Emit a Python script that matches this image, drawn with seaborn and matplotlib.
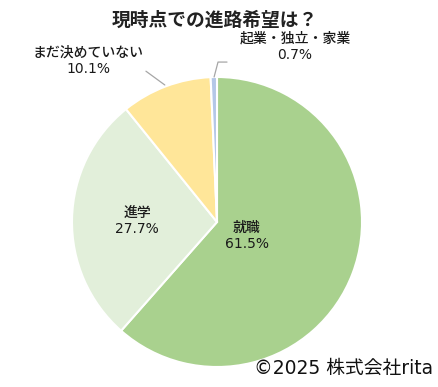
import matplotlib.pyplot as plt
import seaborn as sns

# data
labels = ["就職", "進学", "まだ決めていない", "起業・独立・家業"]
values = [61.5, 27.7, 10.1, 0.7]
pct_text = ["61.5%", "27.7%", "10.1%", "0.7%"]
colors = ["#A9D18E", "#E2EFDA", "#FFE699", "#B4C7E7"]

sns.set_theme(style="white")
plt.rcParams['font.family'] = ['DejaVu Sans', 'Noto Sans CJK JP']

fig = plt.figure(figsize=(4.39, 3.87), dpi=100)
ax = fig.add_axes([0, 0, 1, 1])

ax.pie(values, colors=colors, startangle=90, counterclock=False,
       wedgeprops=dict(edgecolor="white", linewidth=1.5))

# full-figure axes, pie centre at (217, 222) px with radius 145 px
ax.set_xlim(-217 / 145, (439 - 217) / 145)
ax.set_ylim((222 - 387) / 145, 222 / 145)
ax.set_aspect("auto")
ax.axis("off")

txt = dict(ha="center", va="center", fontsize=10, color="#1a1a1a",
           linespacing=1.2, fontweight="medium")

# inside labels
ax.text(0.207, -0.097, f"{labels[0]}\n{pct_text[0]}", **txt)
ax.text(-0.552, 0.007, f"{labels[1]}\n{pct_text[1]}", **txt)

# outside labels
ax.text(-0.889, 1.11, f"{labels[2]}\n{pct_text[2]}", **txt)
ax.text(0.538, 1.21, f"{labels[3]}\n{pct_text[3]}", **txt)

# leader lines
ax.plot([-0.36, -0.49], [0.945, 1.04], color="#A6A6A6", lw=0.9)
ax.plot([-0.02, 0.007, 0.069], [1.0, 1.103, 1.103], color="#A6A6A6", lw=0.9)

# title and credit
ax.text(-0.014, 1.39, "現時点での進路希望は？", ha="center", va="center",
        fontsize=13.5, fontweight="bold", color="#222222",
        family=['Noto Sans CJK JP'])
ax.text(1.49, -1.01, "©2025 株式会社rita", ha="right", va="center",
        fontsize=13.5, color="#111111")

fig.savefig("out.png", dpi=100)
